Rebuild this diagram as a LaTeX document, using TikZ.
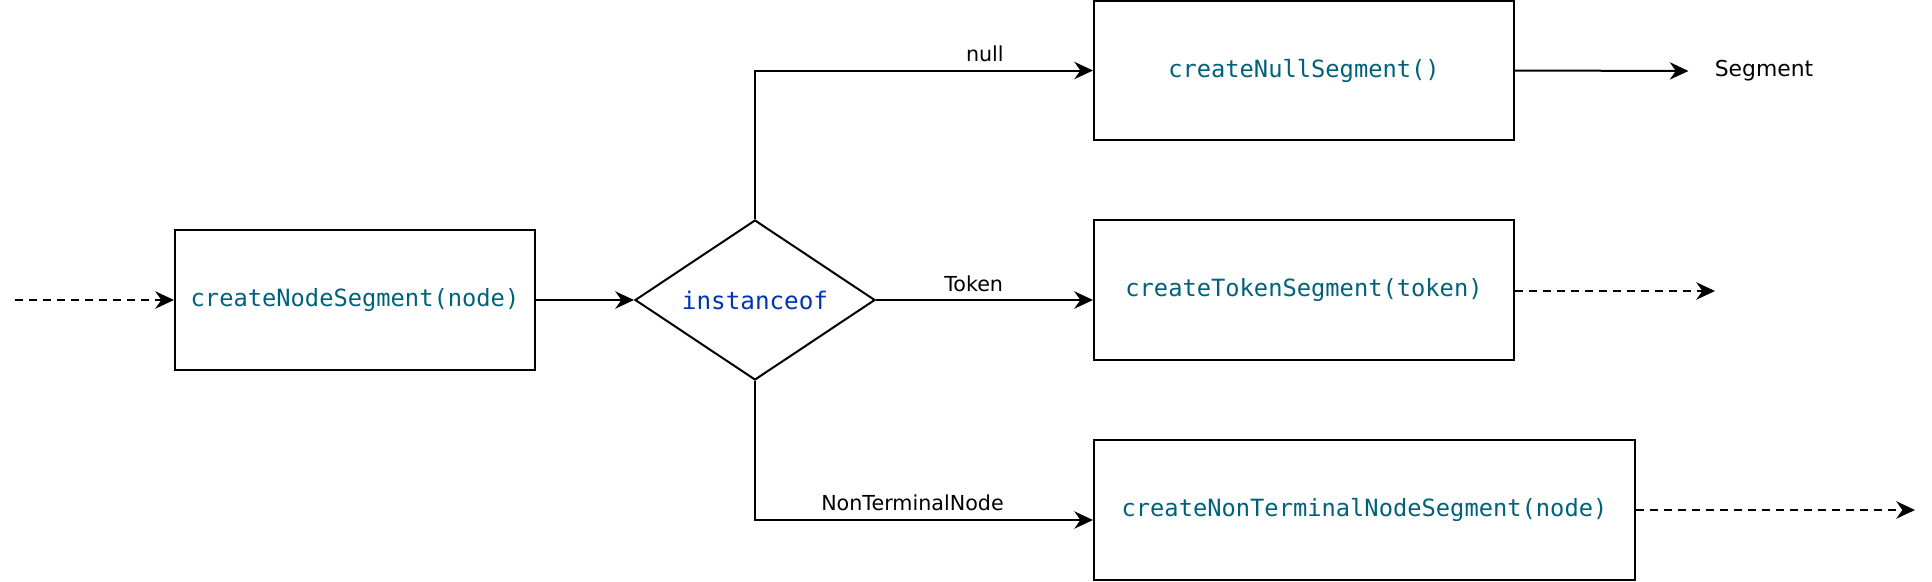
\documentclass[tikz,border=0pt]{standalone}
\usepackage{fontspec}
\setmainfont{DejaVu Sans}
\newfontfamily\codefont{DejaVu Sans Mono}
\usetikzlibrary{arrows.meta,shapes.geometric}
\definecolor{codeteal}{HTML}{00627A}
\definecolor{kwblue}{HTML}{0033B3}
\begin{document}
\begin{tikzpicture}[x=0.75pt,y=-0.75pt,
  line width=1.5pt,
  arr/.style={-{Stealth[length=14pt,width=13pt,inset=4.5pt]}},
  dashline/.style={dash pattern=on 6pt off 4.5pt},
  boxnode/.style={draw,rectangle,inner sep=0pt,font=\codefont\fontsize{17.8}{20}\selectfont,text=codeteal},
  lbl/.style={inner sep=0pt,font=\fontsize{15.5}{18}\selectfont}]
\useasboundingbox (0,0) rectangle (1932,582);
% nodes
\node[boxnode,minimum width=270pt,minimum height=105pt] (cns) at (355,300) {createNodeSegment(node)};
\node[draw,diamond,aspect=1.5,minimum width=180pt,minimum height=120pt,inner sep=0pt,
      font=\codefont\fontsize{18.2}{20}\selectfont,text=kwblue] (dia) at (755,300) {instanceof};
\node[boxnode,minimum width=315pt,minimum height=104pt] (nul) at (1304,70.5) {createNullSegment()};
\node[boxnode,minimum width=315pt,minimum height=105pt] (tok) at (1304,290) {createTokenSegment(token)};
\node[boxnode,minimum width=405.75pt,minimum height=105pt] (nt) at (1364.5,510) {createNonTerminalNodeSegment(node)};
\node[inner xsep=19pt,inner ysep=0pt,font=\fontsize{16.4}{19}\selectfont] (seg) at (1764,71) {Segment};
% free ends
\coordinate (in) at (15,300);
\coordinate (tokout) at (1715,291);
\coordinate (ntout) at (1915,510);
% connectors
\draw[arr,dashline] (in) -- (cns.west);
\draw[arr] (cns.east) -- (dia.west);
\draw[arr] (dia.north) |- node[lbl,pos=0.84,above=6pt] (lnull) {null} (nul.west);
\draw[arr] (dia.east) -- node[lbl,pos=0.45,above=5.5pt] (ltok) {Token} (dia.east -| tok.west);
\draw[arr] (dia.south) |- node[lbl,pos=0.733,above=6pt] (lnt) {NonTerminalNode} ([yshift=-7.5pt]nt.west);
\draw[arr] (nul.east) -- (seg.west);
\draw[arr,dashline] (tok.east |- tokout) -- (tokout);
\draw[arr,dashline] (nt.east) -- (ntout);
\end{tikzpicture}
\end{document}
